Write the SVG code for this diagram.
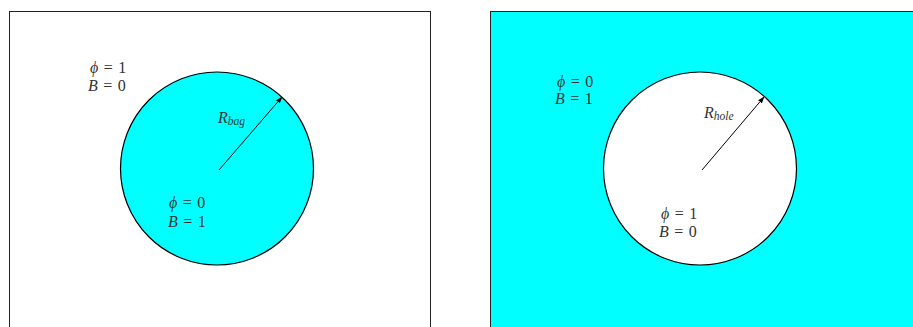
<svg xmlns="http://www.w3.org/2000/svg" width="913" height="327" viewBox="0 0 913 327">
<defs>
<style>
.frame{stroke:#222;stroke-width:1;}
.circ{stroke:#000;stroke-width:1.2;}
.lbl{font-family:"Liberation Serif","DejaVu Serif",serif;font-size:16px;fill:#333;word-spacing:1.5px;}
.it{font-style:italic;}
.sub{font-family:"Liberation Serif","DejaVu Serif",serif;font-size:11.5px;font-style:italic;fill:#333;}
.arr{stroke:#000;stroke-width:1;fill:none;}
</style>
<marker id="ah" viewBox="0 0 10 10" refX="9" refY="5" markerWidth="7" markerHeight="7" orient="auto" markerUnits="userSpaceOnUse">
<path d="M0,1.5 L10,5 L0,8.5 Z" fill="#000"/>
</marker>
</defs>
<rect width="913" height="327" fill="#fff"/>
<g id="left-panel">
<rect class="frame" x="9.5" y="11.5" width="421" height="330" fill="#fff"/>
<circle class="circ" cx="217" cy="168.5" r="96.5" fill="#00ffff"/>
</g>
<g id="right-panel">
<rect class="frame" x="490.5" y="11.5" width="430" height="330" fill="#00ffff"/>
<circle class="circ" cx="700" cy="168.5" r="96.5" fill="#fff"/>
</g>
<g id="connectors">
<line class="arr" x1="219" y1="170" x2="282" y2="97" marker-end="url(#ah)"/>
<line class="arr" x1="702" y1="170" x2="764" y2="97" marker-end="url(#ah)"/>
</g>
<g id="labels-left">
<text class="lbl" x="90" y="73"><tspan class="it">ϕ</tspan> = 1</text>
<text class="lbl" x="88" y="91"><tspan class="it">B</tspan> = 0</text>
<text class="lbl" x="169" y="208"><tspan class="it">ϕ</tspan> = 0</text>
<text class="lbl" x="168" y="227"><tspan class="it">B</tspan> = 1</text>
<text class="lbl" x="218" y="123"><tspan class="it">R</tspan><tspan class="sub" dy="2">bag</tspan></text>
</g>
<g id="labels-right">
<text class="lbl" x="557" y="87"><tspan class="it">ϕ</tspan> = 0</text>
<text class="lbl" x="555" y="104"><tspan class="it">B</tspan> = 1</text>
<text class="lbl" x="661" y="219"><tspan class="it">ϕ</tspan> = 1</text>
<text class="lbl" x="659" y="237"><tspan class="it">B</tspan> = 0</text>
<text class="lbl" x="704" y="118"><tspan class="it">R</tspan><tspan class="sub" dy="2">hole</tspan></text>
</g>
</svg>
